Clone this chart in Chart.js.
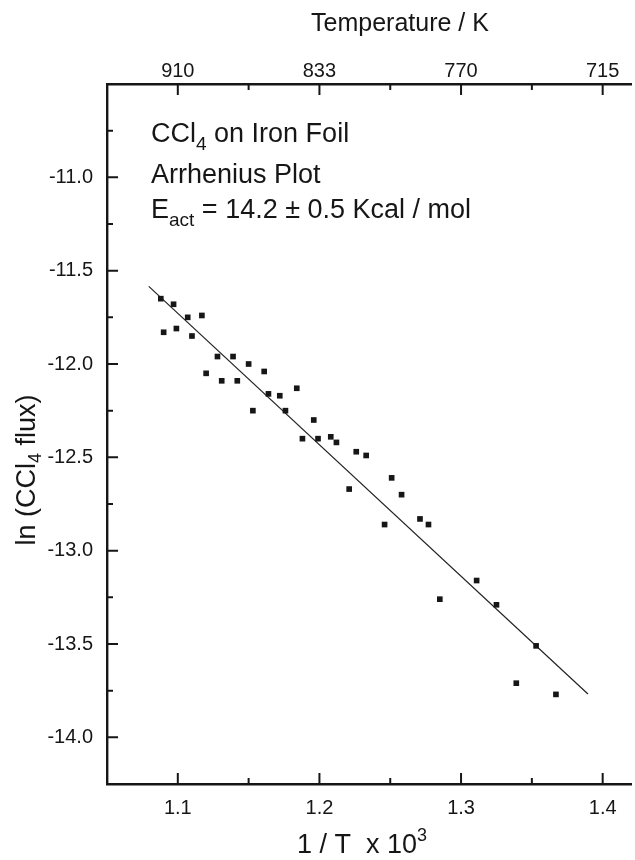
<!DOCTYPE html>
<html>
<head>
<meta charset="UTF-8">
<title>CCl4 on Iron Foil - Arrhenius Plot</title>
<script src="https://cdn.jsdelivr.net/npm/chart.js@4.4.0/dist/chart.umd.min.js"></script>
<style>
  html, body { margin: 0; padding: 0; background: #fff; overflow: hidden; }
</style>
</head>
<body>
<canvas id="myChart" width="635" height="860"></canvas>
<script>
// values
const invT = [1.088, 1.097, 1.107, 1.117, 1.090, 1.099, 1.110, 1.128, 1.139, 1.150,
              1.120, 1.131, 1.142, 1.161, 1.164, 1.172, 1.184, 1.153, 1.176, 1.196,
              1.188, 1.199, 1.208, 1.212, 1.226, 1.233, 1.221, 1.251, 1.258, 1.246,
              1.271, 1.277, 1.285, 1.311, 1.325, 1.353, 1.339, 1.367];
const lnFlux = [-11.65, -11.68, -11.75, -11.74, -11.83, -11.81, -11.85, -11.96, -11.96, -12.00,
                -12.05, -12.09, -12.09, -12.04, -12.16, -12.17, -12.13, -12.25, -12.25, -12.30,
                -12.40, -12.40, -12.39, -12.42, -12.47, -12.49, -12.67, -12.61, -12.70, -12.86,
                -12.83, -12.86, -13.26, -13.16, -13.29, -13.51, -13.71, -13.77];
// least squares line as drawn
const fitX = [1.0795, 1.3896];
const fitY = [-11.584, -13.768];

const xTicks = [1.1, 1.2, 1.3, 1.4];
const xMinor = [1.15, 1.25, 1.35];
const tempLabels = ['910', '833', '770', '715'];
const yTicks = [-14.0, -13.5, -13.0, -12.5, -12.0, -11.5, -11.0];
const yMinor = [-13.75, -13.25, -12.75, -12.25, -11.75, -11.25, -10.75];

const INK = '#161616';
const FONT = '"Liberation Sans", Arial, sans-serif';

// draw a run of text pieces (for sub/superscripts)
function runWidth(ctx, parts) {
  let w = 0;
  parts.forEach(p => { ctx.font = p.s + 'px ' + FONT; w += ctx.measureText(p.t).width; });
  return w;
}
function drawRun(ctx, x, y, parts) {
  parts.forEach(p => {
    ctx.font = p.s + 'px ' + FONT;
    ctx.fillText(p.t, x, y + (p.dy || 0));
    x += ctx.measureText(p.t).width;
  });
}

const framePlugin = {
  id: 'frame',
  afterDraw(chart) {
    const ctx = chart.ctx;
    const a = chart.chartArea;
    const sx = chart.scales.x, sy = chart.scales.y;
    ctx.save();
    ctx.strokeStyle = INK;
    ctx.lineWidth = 2;
    ctx.beginPath();
    // inward ticks, bottom and top
    xTicks.forEach(v => {
      const p = sx.getPixelForValue(v);
      ctx.moveTo(p, a.bottom); ctx.lineTo(p, a.bottom - 11);
      ctx.moveTo(p, a.top); ctx.lineTo(p, a.top + 11);
    });
    xMinor.forEach(v => {
      const p = sx.getPixelForValue(v);
      ctx.moveTo(p, a.bottom); ctx.lineTo(p, a.bottom - 6);
      ctx.moveTo(p, a.top); ctx.lineTo(p, a.top + 6);
    });
    // inward ticks, left
    yTicks.forEach(v => {
      const p = sy.getPixelForValue(v);
      ctx.moveTo(a.left, p); ctx.lineTo(a.left + 11, p);
    });
    yMinor.forEach(v => {
      const p = sy.getPixelForValue(v);
      ctx.moveTo(a.left, p); ctx.lineTo(a.left + 6, p);
    });
    ctx.stroke();

    ctx.fillStyle = INK;
    ctx.textBaseline = 'alphabetic';
    ctx.textAlign = 'left';

    // top title
    let parts = [{ t: 'Temperature / K', s: 25 }];
    drawRun(ctx, 400 - runWidth(ctx, parts) / 2, 31, parts);

    // bottom title
    parts = [{ t: '1 / T  x 10', s: 27 }, { t: '3', s: 18, dy: -12 }];
    drawRun(ctx, 362 - runWidth(ctx, parts) / 2, 853, parts);

    // left title, rotated
    parts = [{ t: 'ln (CCl', s: 27 }, { t: '4', s: 18, dy: 6 }, { t: ' flux)', s: 27 }];
    ctx.save();
    ctx.translate(35, 470);
    ctx.rotate(-Math.PI / 2);
    drawRun(ctx, -runWidth(ctx, parts) / 2, 0, parts);
    ctx.restore();

    // annotation
    drawRun(ctx, 151, 142, [{ t: 'CCl', s: 27 }, { t: '4', s: 19, dy: 8 }, { t: ' on Iron Foil', s: 27 }]);
    drawRun(ctx, 151, 183, [{ t: 'Arrhenius Plot', s: 27 }]);
    drawRun(ctx, 151, 218, [{ t: 'E', s: 27 }, { t: 'act', s: 19, dy: 8 }, { t: ' = 14.2 \u00B1 0.5 Kcal / mol', s: 27 }]);
    ctx.restore();
  }
};

const tickFont = { family: FONT, size: 20 };

new Chart(document.getElementById('myChart'), {
  type: 'scatter',
  data: {
    datasets: [{
      data: invT.map((v, i) => ({ x: v, y: lnFlux[i] })),
      pointStyle: 'rect',
      pointRadius: 4,
      backgroundColor: INK,
      borderWidth: 0
    }, {
      data: fitX.map((v, i) => ({ x: v, y: fitY[i] })),
      showLine: true,
      borderColor: '#222',
      borderWidth: 1.2,
      pointRadius: 0
    }]
  },
  options: {
    responsive: false,
    animation: false,
    devicePixelRatio: 1,
    layout: { padding: 0 },
    plugins: { legend: { display: false }, tooltip: { enabled: false } },
    scales: {
      x: {
        type: 'linear', position: 'bottom', min: 1.05, max: 1.42,
        afterBuildTicks: s => { s.ticks = xTicks.map(v => ({ value: v })); },
        afterFit: s => { s.height = 76; },
        grid: { display: false, drawTicks: false },
        border: { display: true, color: INK, width: 2.4 },
        ticks: { font: tickFont, color: INK, padding: 12, maxRotation: 0,
                 callback: v => v.toFixed(1) }
      },
      x2: {
        type: 'linear', position: 'top', min: 1.05, max: 1.42,
        afterBuildTicks: s => { s.ticks = xTicks.map(v => ({ value: v })); },
        afterFit: s => { s.height = 84; },
        grid: { display: false, drawTicks: false },
        border: { display: true, color: INK, width: 2.4 },
        ticks: { font: tickFont, color: INK, padding: 1, maxRotation: 0,
                 callback: (v, i) => tempLabels[i] }
      },
      y: {
        type: 'linear', position: 'left', min: -14.25, max: -10.5,
        afterBuildTicks: s => { s.ticks = yTicks.map(v => ({ value: v })); },
        afterFit: s => { s.width = 107; },
        grid: { display: false, drawTicks: false },
        border: { display: true, color: INK, width: 2.4 },
        ticks: { font: tickFont, color: INK, padding: 14,
                 callback: v => v.toFixed(1) }
      }
    }
  },
  plugins: [framePlugin]
});
</script>
</body>
</html>
